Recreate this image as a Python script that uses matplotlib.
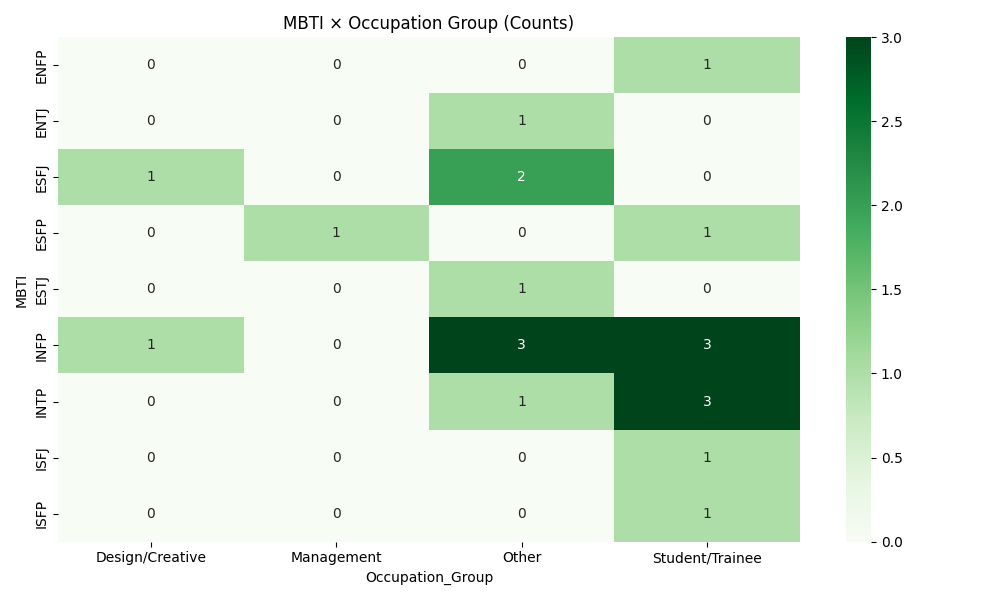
import matplotlib
matplotlib.use("Agg")
import matplotlib.pyplot as plt
import seaborn as sns
import pandas as pd

mbti = ["ENFP", "ENTJ", "ESFJ", "ESFP", "ESTJ", "INFP", "INTP", "ISFJ", "ISFP"]
groups = ["Design/Creative", "Management", "Other", "Student/Trainee"]
design = [0, 0, 1, 0, 0, 1, 0, 0, 0]
management = [0, 0, 0, 1, 0, 0, 0, 0, 0]
other = [0, 1, 2, 0, 1, 3, 1, 0, 0]
student = [1, 0, 0, 1, 0, 3, 3, 1, 1]

df = pd.DataFrame({groups[0]: design, groups[1]: management,
                   groups[2]: other, groups[3]: student}, index=mbti)
df.index.name = "MBTI"
df.columns.name = "Occupation_Group"

fig, ax = plt.subplots(figsize=(10, 6), dpi=100)
sns.heatmap(df, annot=True, fmt="d", cmap="Greens", ax=ax)
ax.set_title("MBTI × Occupation Group (Counts)")
plt.tight_layout()
plt.savefig("out.png")
